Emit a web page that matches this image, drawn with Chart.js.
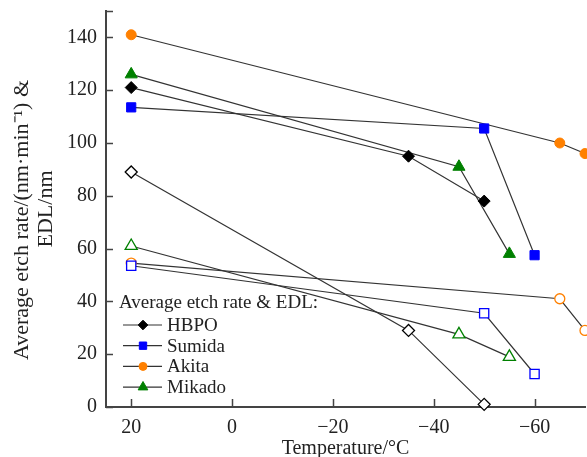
<!DOCTYPE html>
<html>
<head>
<meta charset="utf-8">
<script src="https://cdn.jsdelivr.net/npm/chart.js@4.4.0/dist/chart.umd.min.js"></script>
<style>
  html, body { margin: 0; padding: 0; background: #fff; }
</style>
</head>
<body>
<canvas id="myChart" width="587" height="457"></canvas>
<script>
// values (temperature in °C, rates in nm/min, EDL in nm)
const hbpoTemp = [20, -35, -50];
const hbpoRate = [121, 95, 78];
const hbpoEdl = [89, 29, 1];

const sumidaTemp = [20, -50, -60];
const sumidaRate = [113.5, 105.5, 57.5];
const sumidaEdl = [53.5, 35.5, 12.5];

const akitaTemp = [20, -65, -70];
const akitaRate = [141, 100, 96];
const akitaEdl = [54.5, 41, 29];

const mikadoTemp = [20, -45, -55];
const mikadoRate = [126, 91, 58];
const mikadoEdl = [61, 27.5, 19];

const xTickValues = [20, 0, -20, -40, -60];
const yTickValues = [0, 20, 40, 60, 80, 100, 120, 140];

const FONT = "'Liberation Serif', 'Times New Roman', serif";
const LINE = '#333';

// name, colour, marker shape, marker radius
const series = [
  { name: 'HBPO', color: '#000000', shape: 'rectRot', r: 6, temp: hbpoTemp, rate: hbpoRate, edl: hbpoEdl },
  { name: 'Sumida', color: '#0000ff', shape: 'rect', r: 6.5, temp: sumidaTemp, rate: sumidaRate, edl: sumidaEdl },
  { name: 'Akita', color: '#ff8000', shape: 'circle', r: 5, temp: akitaTemp, rate: akitaRate, edl: akitaEdl },
  { name: 'Mikado', color: '#008000', shape: 'triangle', r: 7, temp: mikadoTemp, rate: mikadoRate, edl: mikadoEdl }
];

function points(xs, ys) {
  return xs.map((x, i) => ({ x: x, y: ys[i] }));
}

const datasets = [];
series.forEach(s => {
  // open markers = EDL
  datasets.push({
    label: s.name + ' EDL',
    data: points(s.temp, s.edl),
    showLine: true,
    borderColor: LINE,
    borderWidth: 1.2,
    pointStyle: s.shape,
    pointRadius: s.r,
    pointBackgroundColor: '#ffffff',
    pointBorderColor: s.color,
    pointBorderWidth: 1.3,
    clip: false
  });
});
series.forEach(s => {
  // filled markers = etch rate
  datasets.push({
    label: s.name,
    data: points(s.temp, s.rate),
    showLine: true,
    borderColor: LINE,
    borderWidth: 1.2,
    pointStyle: s.shape,
    pointRadius: s.r,
    pointBackgroundColor: s.color,
    pointBorderColor: s.color,
    pointBorderWidth: 1,
    clip: false
  });
});

// inward tick marks on both axes
const inwardTicks = {
  id: 'inwardTicks',
  afterDatasetsDraw(chart) {
    const { ctx, chartArea, scales: { x, y } } = chart;
    ctx.save();
    ctx.strokeStyle = '#444';
    ctx.lineWidth = 1.5;
    ctx.beginPath();
    xTickValues.forEach(v => {
      const px = Math.round(x.getPixelForValue(v)) + 0.5;
      ctx.moveTo(px, chartArea.bottom);
      ctx.lineTo(px, chartArea.bottom - 8);
    });
    yTickValues.concat([150]).forEach(v => {
      const py = Math.round(y.getPixelForValue(v)) + 0.5;
      ctx.moveTo(chartArea.left, py);
      ctx.lineTo(chartArea.left + 7, py);
    });
    ctx.stroke();
    ctx.restore();
  }
};

// legend in the lower-left corner: title + line with marker for each series
const insideLegend = {
  id: 'insideLegend',
  afterDraw(chart) {
    const ctx = chart.ctx;
    ctx.save();
    ctx.font = '19px ' + FONT;
    ctx.fillStyle = '#222';
    ctx.textBaseline = 'middle';
    ctx.textAlign = 'left';
    ctx.fillText('Average etch rate & EDL:', 119, 303);
    series.forEach((s, i) => {
      const yy = 325 + i * 20.7;
      ctx.strokeStyle = LINE;
      ctx.lineWidth = 1.2;
      ctx.beginPath();
      ctx.moveTo(123, yy);
      ctx.lineTo(162, yy);
      ctx.stroke();
      ctx.fillStyle = s.color;
      ctx.strokeStyle = s.color;
      ctx.lineWidth = 1;
      Chart.helpers.drawPoint(ctx, { pointStyle: s.shape, radius: s.r * 0.8, borderWidth: 1 }, 143, yy);
      ctx.fillStyle = '#222';
      ctx.fillText(s.name, 167, yy + 1);
    });
    ctx.restore();
  }
};

const ctx = document.getElementById('myChart').getContext('2d');
const chart = new Chart(ctx, {
  type: 'scatter',
  data: { datasets: datasets },
  options: {
    responsive: false,
    animation: false,
    layout: { autoPadding: false, padding: { top: 11, right: 2, left: 0, bottom: 0 } },
    plugins: {
      legend: { display: false },
      tooltip: { enabled: false }
    },
    scales: {
      x: {
        type: 'linear',
        reverse: true,
        min: -70,
        max: 25,
        afterBuildTicks: scale => { scale.ticks = xTickValues.map(v => ({ value: v })); },
        afterFit: scale => { scale.height = 50; },
        grid: { display: false },
        border: { display: true, color: '#444', width: 2 },
        ticks: {
          padding: 1,
          color: '#222',
          font: { family: FONT, size: 20 },
          maxRotation: 0,
          callback: v => String(v).replace('-', '\u2212')
        },
        title: {
          display: true,
          text: 'Temperature/°C',
          color: '#222',
          padding: { top: 0, bottom: -3 },
          font: { family: FONT, size: 20, lineHeight: 1.1 }
        }
      },
      y: {
        type: 'linear',
        min: 0,
        max: 150,
        afterBuildTicks: scale => { scale.ticks = yTickValues.map(v => ({ value: v })); },
        afterFit: scale => { scale.width = 106; },
        grid: { display: false },
        border: { display: true, color: '#444', width: 2 },
        ticks: {
          padding: 1,
          color: '#222',
          font: { family: FONT, size: 20, lineHeight: 0.1 }
        },
        title: {
          display: true,
          text: ['Average etch rate/(nm·min\u207B\u00B9) &\u2002\u2002', 'EDL/nm'],
          color: '#222',
          padding: { top: 10, bottom: 0 },
          font: { family: FONT, size: 22, lineHeight: 1.1 }
        }
      }
    }
  },
  plugins: [inwardTicks, insideLegend]
});
</script>
</body>
</html>
